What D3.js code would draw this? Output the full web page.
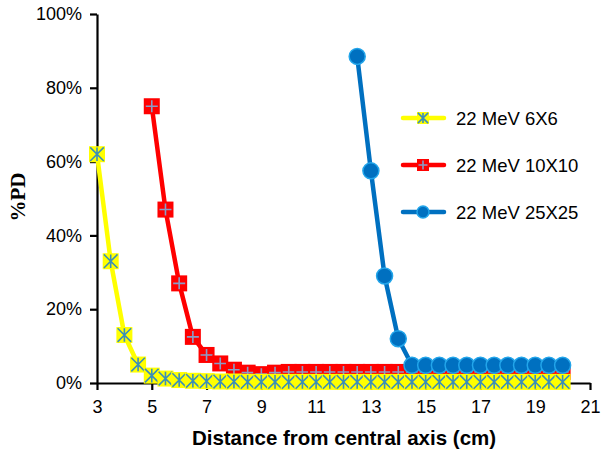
<!DOCTYPE html>
<html>
<head>
<meta charset="utf-8">
<script src="https://cdn.jsdelivr.net/npm/d3@7"></script>
<style>
  body { margin: 0; background: #fff; }
  text { font-family: "Liberation Sans", Arial, sans-serif; }
</style>
</head>
<body>
<script>
// data (x in cm, y in %PD)
const x6 = [3, 3.5, 4, 4.5, 5, 5.5, 6, 6.5, 7, 7.5, 8, 8.5, 9, 9.5, 10, 10.5, 11, 11.5, 12, 12.5, 13, 13.5, 14, 14.5, 15, 15.5, 16, 16.5, 17, 17.5, 18, 18.5, 19, 19.5, 20];
const y6 = [62, 33, 13, 5, 2, 1.2, 0.8, 0.6, 0.5, 0.4, 0.4, 0.3, 0.3, 0.3, 0.3, 0.3, 0.3, 0.3, 0.3, 0.3, 0.3, 0.3, 0.3, 0.3, 0.3, 0.3, 0.3, 0.3, 0.3, 0.3, 0.3, 0.3, 0.3, 0.3, 0.3];
const x10 = [5, 5.5, 6, 6.5, 7, 7.5, 8, 8.5, 9, 9.5, 10, 10.5, 11, 11.5, 12, 12.5, 13, 13.5, 14, 14.5, 15, 15.5, 16, 16.5, 17, 17.5, 18, 18.5, 19, 19.5, 20];
const y10 = [75, 47, 27, 12.5, 7.6, 5.3, 3.6, 2.8, 2.4, 2.8, 3, 3, 3, 3, 3, 3, 3, 3, 3, 3, 3, 3, 3, 3, 3, 3, 3, 3, 3, 3, 3];
const x25 = [12.5, 13, 13.5, 14, 14.5, 15, 15.5, 16, 16.5, 17, 17.5, 18, 18.5, 19, 19.5, 20];
const y25 = [88.5, 57.5, 29, 12, 4.8, 4.8, 4.8, 4.8, 4.8, 4.8, 4.8, 4.8, 4.8, 4.8, 4.8, 4.8];
const names = ["22 MeV 6X6", "22 MeV 10X10", "22 MeV 25X25"];
const xTicks = [3, 5, 7, 9, 11, 13, 15, 17, 19, 21];
const yTicks = [0, 20, 40, 60, 80, 100];

const svg = d3.select("body").append("svg")
  .attr("width", 601)
  .attr("height", 455);

const x = d3.scaleLinear().domain([3, 21]).range([97, 590]);
const y = d3.scaleLinear().domain([0, 100]).range([383, 14]);

// axes
const xAxis = svg.append("g")
  .attr("transform", "translate(0,383)")
  .call(d3.axisBottom(x).tickValues(xTicks).tickSize(7).tickPadding(10).tickSizeOuter(0));
const yAxis = svg.append("g")
  .attr("transform", "translate(97,0)")
  .call(d3.axisLeft(y).tickValues(yTicks).tickSize(7).tickPadding(8).tickSizeOuter(0)
    .tickFormat(d => d + "%"));
[xAxis, yAxis].forEach(g => {
  g.select(".domain").attr("stroke", "#000").attr("stroke-width", 2.2);
  g.selectAll(".tick line").attr("stroke", "#000").attr("stroke-width", 2.2);
  g.selectAll(".tick text").attr("font-size", 18).attr("fill", "#000")
    .attr("font-family", "Liberation Sans, Arial, sans-serif");
});

// axis titles
svg.append("text")
  .attr("x", 344).attr("y", 445)
  .attr("text-anchor", "middle")
  .attr("font-weight", "bold").attr("font-size", 20.5)
  .text("Distance from central axis (cm)");
svg.append("text")
  .attr("transform", "translate(25,197) rotate(-90)")
  .attr("text-anchor", "middle")
  .attr("font-family", "Liberation Serif, Times New Roman, serif")
  .style("font-family", "Liberation Serif, serif")
  .attr("font-weight", "bold").attr("font-size", 21)
  .text("%PD");

const line = d3.line().x(d => x(d[0])).y(d => y(d[1]));

// marker drawers
function starMark(g, s) {
  const h = s / 2;
  g.append("rect").attr("x", -h).attr("y", -h).attr("width", s).attr("height", s).attr("fill", "#ffff00");
  const k = h * 0.85;
  g.append("path")
    .attr("d", `M${-k},${-k}L${k},${k}M${-k},${k}L${k},${-k}M0,${-k}L0,${k}`)
    .attr("stroke", "#3b8fb8").attr("stroke-width", 1.6).attr("fill", "none");
}
function plusMark(g, s) {
  const h = s / 2;
  g.append("rect").attr("x", -h).attr("y", -h).attr("width", s).attr("height", s).attr("fill", "#ff0000");
  const k = h * 0.75;
  g.append("path")
    .attr("d", `M${-k},0L${k},0M0,${-k}L0,${k}`)
    .attr("stroke", "#8a9cc8").attr("stroke-width", 1.6).attr("fill", "none");
}
function circleMark(g, s) {
  g.append("circle").attr("r", s / 2).attr("fill", "#0070c0")
    .attr("stroke", "#22a5ea").attr("stroke-width", 1.5);
}

const series = [
  { xs: x10, ys: y10, color: "#ff0000", mark: plusMark, legend: 1 },
  { xs: x6, ys: y6, color: "#ffff00", mark: starMark, legend: 0 },
  { xs: x25, ys: y25, color: "#0070c0", mark: circleMark, legend: 2 }
];

series.forEach(s => {
  const pts = s.xs.map((v, i) => [v, s.ys[i]]);
  svg.append("path")
    .datum(pts)
    .attr("d", line)
    .attr("fill", "none")
    .attr("stroke", s.color)
    .attr("stroke-width", 4.5)
    .attr("stroke-linejoin", "round");
  svg.append("g").selectAll("g")
    .data(pts)
    .join("g")
    .attr("transform", d => `translate(${x(d[0])},${y(d[1])})`)
    .each(function () { s.mark(d3.select(this), 16); });
});

// legend
const legendY = [118, 165, 212];
const legendMarks = [starMark, plusMark, circleMark];
const legendColors = ["#ffff00", "#ff0000", "#0070c0"];
names.forEach((n, i) => {
  const g = svg.append("g").attr("transform", `translate(0,${legendY[i]})`);
  g.append("line")
    .attr("x1", 403).attr("x2", 444)
    .attr("stroke", legendColors[i]).attr("stroke-width", 4.5)
    .attr("stroke-linecap", "round");
  const m = g.append("g").attr("transform", "translate(423,0)");
  legendMarks[i](m, 12);
  g.append("text")
    .attr("x", 456).attr("y", 6.5)
    .attr("font-size", 18.5)
    .text(n);
});
</script>
</body>
</html>
